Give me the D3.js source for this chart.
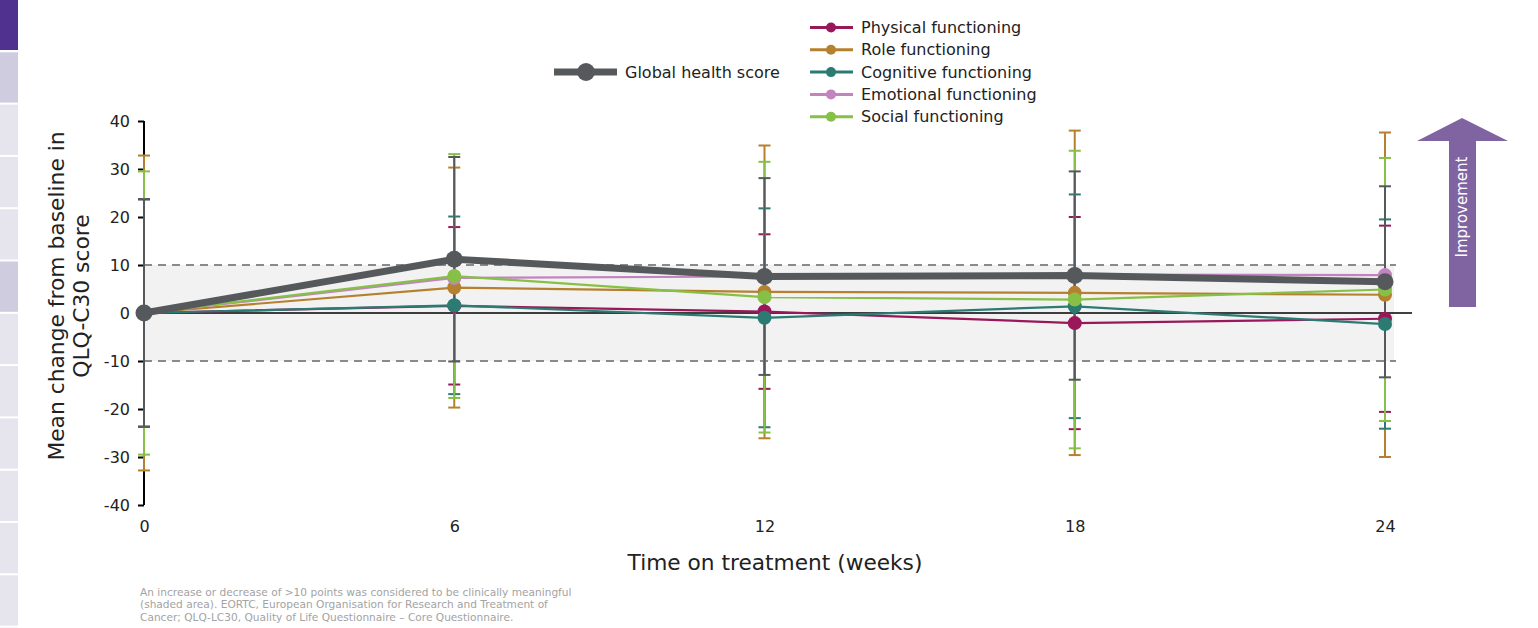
<!DOCTYPE html>
<html>
<head>
<meta charset="utf-8">
<script src="https://cdn.jsdelivr.net/npm/d3@7"></script>
<style>
html,body{margin:0;padding:0;background:#fff;}
svg{display:block;font-family:"DejaVu Sans",Verdana,sans-serif;}
</style>
</head>
<body>
<svg id="chart" width="1538" height="628"></svg>
<script>
// ---------- data ----------
const weeks = [0, 6, 12, 18, 24];
const yTicks = [-40, -30, -20, -10, 0, 10, 20, 30, 40];
const seriesNames = ["Physical functioning", "Role functioning", "Cognitive functioning", "Emotional functioning", "Social functioning"];
const seriesColors = ["#98185a", "#b5812f", "#2b7b73", "#c283bf", "#86c046"];
const physical   = [0, 1.5, 0.3, -2.1, -1.2];
const role       = [0, 5.3, 4.4, 4.2, 3.8];
const cognitive  = [0, 1.6, -1.0, 1.4, -2.3];
const emotional  = [0, 7.3, 7.6, 8.0, 7.9];
const social     = [0, 7.7, 3.3, 2.8, 4.9];
const physicalSD  = [23.7, 16.4, 16.1, 22.1, 19.4];
const roleSD      = [32.8, 25.0, 30.5, 33.8, 33.8];
const cognitiveSD = [23.7, 18.5, 22.8, 23.3, 21.8];
const emotionalSD = [null, null, null, null, null];
const socialSD    = [29.5, 25.4, 28.2, 31.0, 27.4];
const globalName = "Global health score";
const globalColor = "#56595c";
const globalScore = [0, 11.2, 7.6, 7.8, 6.5];
const globalSD    = [23.7, 21.3, 20.5, 21.7, 19.9];
const meaningfulBand = [-10, 10];
const xTitle = "Time on treatment (weeks)";
const yTitleLines = ["Mean change from baseline in", "QLQ-C30 score"];
const arrowLabel = "Improvement";
const footnote = [
  "An increase or decrease of >10 points was considered to be clinically meaningful",
  "(shaded area). EORTC, European Organisation for Research and Treatment of",
  "Cancer; QLQ-LC30, Quality of Life Questionnaire \u2013 Core Questionnaire."
];

const seriesValues = [physical, role, cognitive, emotional, social];
const seriesSDs = [physicalSD, roleSD, cognitiveSD, emotionalSD, socialSD];

// ---------- layout ----------
const svg = d3.select("#chart");
const x = d3.scaleLinear().domain([0, 24]).range([144, 1385]);
const y = d3.scaleLinear().domain([-40, 40]).range([505, 121]);

// left sidebar decoration
const side = svg.append("g");
for (let i = 0; i < 13; i++) {
  const top = i === 0 ? 0 : i * 52.3;
  const h = i === 0 ? 50 : 50.3;
  let fill = "#e6e5ee";
  if (i === 0) fill = "#51318f";
  else if (i === 1 || i === 5) fill = "#cfcce0";
  side.append("rect").attr("x", 0).attr("y", top).attr("width", 18).attr("height", h).attr("fill", fill);
}

// shaded band
svg.append("rect")
  .attr("x", x(0)).attr("y", y(meaningfulBand[1]))
  .attr("width", x(24) + 9 - x(0))
  .attr("height", y(meaningfulBand[0]) - y(meaningfulBand[1]))
  .attr("fill", "#f2f2f2");
meaningfulBand.forEach(v => {
  svg.append("line")
    .attr("x1", x(0)).attr("x2", x(24) + 11)
    .attr("y1", y(v)).attr("y2", y(v))
    .attr("stroke", "#8a8a8a").attr("stroke-width", 2)
    .attr("stroke-dasharray", "8,6");
});
// zero line
svg.append("line")
  .attr("x1", x(0)).attr("x2", x(24) + 27)
  .attr("y1", y(0)).attr("y2", y(0))
  .attr("stroke", "#000").attr("stroke-width", 1.5);

// y axis
const yAxis = d3.axisLeft(y).tickValues(yTicks).tickSize(6).tickPadding(8).tickFormat(d => String(d));
const ya = svg.append("g").attr("transform", `translate(${x(0)},0)`).call(yAxis);
ya.select(".domain").attr("stroke", "#000").attr("stroke-width", 2).attr("d", `M0,${y(40)}V${y(-40)}`);
ya.selectAll(".tick line").attr("stroke", "#000").attr("stroke-width", 2);
ya.selectAll(".tick text").attr("font-size", 16).attr("fill", "#222").attr("font-family", "DejaVu Sans, Verdana, sans-serif");

// x axis labels (no axis line)
const xAxis = d3.axisBottom(x).tickValues(weeks).tickSize(0).tickPadding(0).tickFormat(d => String(d));
const xa = svg.append("g").attr("transform", `translate(0,${y(-40) + 22})`).call(xAxis);
xa.select(".domain").remove();
xa.selectAll(".tick text").attr("font-size", 16).attr("fill", "#222").attr("dy", "0.32em")
  .attr("font-family", "DejaVu Sans, Verdana, sans-serif");

// axis titles
svg.append("text").attr("x", 775).attr("y", 570).attr("text-anchor", "middle")
  .attr("font-size", 21.7).attr("fill", "#222").text(xTitle);
const yt = svg.append("text").attr("transform", `translate(64,296) rotate(-90)`)
  .attr("text-anchor", "middle").attr("font-size", 21.8).attr("fill", "#222");
yTitleLines.forEach((t, i) => yt.append("tspan").attr("x", 0).attr("dy", i === 0 ? 0 : 25).text(t));

// error bars: series then global on top
const capW = 6;
function drawErr(vals, sds, color) {
  const g = svg.append("g");
  weeks.forEach((w, i) => {
    if (sds[i] == null) return;
    const hi = vals[i] + sds[i], lo = vals[i] - sds[i];
    g.append("line").attr("x1", x(w)).attr("x2", x(w)).attr("y1", y(hi)).attr("y2", y(lo))
      .attr("stroke", color).attr("stroke-width", 2);
    [hi, lo].forEach(v => g.append("line").attr("x1", x(w) - capW).attr("x2", x(w) + capW)
      .attr("y1", y(v)).attr("y2", y(v)).attr("stroke", color).attr("stroke-width", 2));
  });
}
seriesValues.forEach((vals, k) => drawErr(vals, seriesSDs[k], seriesColors[k]));
drawErr(globalScore, globalSD, globalColor);

// lines + points
const line = d3.line().x((d, i) => x(weeks[i])).y(d => y(d));
seriesValues.forEach((vals, k) => {
  svg.append("path").datum(vals).attr("d", line).attr("fill", "none")
    .attr("stroke", seriesColors[k]).attr("stroke-width", 2.2);
  svg.append("g").selectAll("circle").data(vals).join("circle")
    .attr("cx", (d, i) => x(weeks[i])).attr("cy", d => y(d)).attr("r", 7)
    .attr("fill", seriesColors[k]);
});
svg.append("path").datum(globalScore).attr("d", line).attr("fill", "none")
  .attr("stroke", globalColor).attr("stroke-width", 7);
svg.append("g").selectAll("circle").data(globalScore).join("circle")
  .attr("cx", (d, i) => x(weeks[i])).attr("cy", d => y(d)).attr("r", 8.5)
  .attr("fill", globalColor);

// legends
const lg = svg.append("g");
lg.append("line").attr("x1", 554).attr("x2", 617).attr("y1", 72).attr("y2", 72)
  .attr("stroke", globalColor).attr("stroke-width", 7);
lg.append("circle").attr("cx", 586).attr("cy", 72).attr("r", 9).attr("fill", globalColor);
lg.append("text").attr("x", 625).attr("y", 72).attr("dy", "0.35em").attr("font-size", 16)
  .attr("fill", "#222").text(globalName);
seriesNames.forEach((n, k) => {
  const yy = 27.5 + k * 22.3;
  lg.append("line").attr("x1", 810).attr("x2", 853).attr("y1", yy).attr("y2", yy)
    .attr("stroke", seriesColors[k]).attr("stroke-width", 3);
  lg.append("circle").attr("cx", 831).attr("cy", yy).attr("r", 5).attr("fill", seriesColors[k]);
  lg.append("text").attr("x", 861).attr("y", yy).attr("dy", "0.35em").attr("font-size", 16)
    .attr("fill", "#222").text(n);
});

// improvement arrow
svg.append("path")
  .attr("d", "M1449,307 L1449,141 L1417,141 L1462,118 L1508,141 L1476,141 L1476,307 Z")
  .attr("fill", "#8064a2");
svg.append("text").attr("transform", "translate(1467,207) rotate(-90)")
  .attr("text-anchor", "middle").attr("font-size", 15).attr("fill", "#fff").text(arrowLabel);

// footnote
const fn = svg.append("text").attr("x", 140).attr("y", 596).attr("font-size", 10.6).attr("fill", "#a3a3a3");
footnote.forEach((t, i) => fn.append("tspan").attr("x", 140).attr("dy", i === 0 ? 0 : 12.3).text(t));
</script>
</body>
</html>
